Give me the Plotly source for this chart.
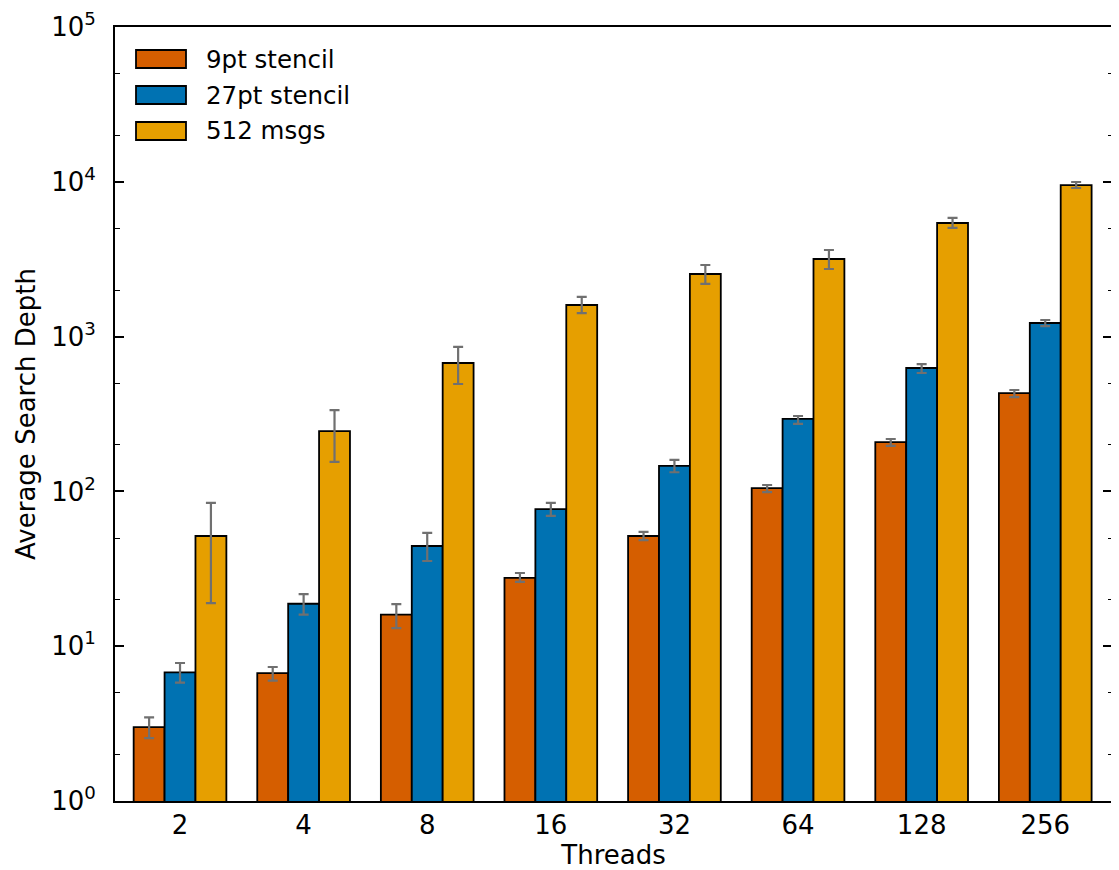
import plotly.graph_objects as go

threads = ["2", "4", "8", "16", "32", "64", "128", "256"]
series_names = ["9pt stencil", "27pt stencil", "512 msgs"]
colors = ["#D55E00", "#0072B2", "#E69F00"]

stencil9 = [3.0, 6.7, 16.0, 27.6, 51.5, 105, 208, 432]
stencil9_hi = [3.47, 7.34, 18.7, 29.7, 54.7, 110, 218, 452]
stencil9_lo = [2.55, 5.99, 13.1, 26.0, 48.5, 99, 197, 407]

stencil27 = [6.78, 18.8, 44.4, 76.9, 146, 294, 627, 1224]
stencil27_hi = [7.79, 21.7, 53.9, 84.2, 160, 307, 665, 1280]
stencil27_lo = [5.81, 16.0, 35.5, 69.4, 133, 273, 582, 1170]

msgs512 = [51.5, 245, 675, 1600, 2537, 3171, 5420, 9530]
msgs512_hi = [84.2, 335, 857, 1803, 2900, 3626, 5840, 9970]
msgs512_lo = [19.0, 155, 494, 1420, 2190, 2733, 5040, 9120]

y_tickvals = [1, 10, 100, 1000, 10000, 100000]
y_ticktext = ["10<sup>0</sup>", "10<sup>1</sup>", "10<sup>2</sup>",
              "10<sup>3</sup>", "10<sup>4</sup>", "10<sup>5</sup>"]

# page has an 8px body margin; figure is sized/offset to compensate
OFF = 8
W, H = 1119 - OFF, 870 - OFF
ML, MR, MT, MB = 115 - OFF, 7, 27 - OFF, 69
PW, PH = W - ML - MR, H - MT - MB
FONT = "DejaVu Sans"

def px_x(x):
    # x in page pixels
    return (x - OFF - ML) / PW

def px_y(y):
    return (H - MB - (y - OFF)) / PH

fig = go.Figure()
data = [(stencil9, stencil9_hi, stencil9_lo),
        (stencil27, stencil27_hi, stencil27_lo),
        (msgs512, msgs512_hi, msgs512_lo)]
for name, color, (vals, hi, lo) in zip(series_names, colors, data):
    fig.add_trace(go.Bar(
        x=threads, y=vals, name=name,
        marker=dict(color=color, line=dict(color="black", width=1.8)),
        error_y=dict(type="data", symmetric=False,
                     array=[h - v for h, v in zip(hi, vals)],
                     arrayminus=[v - l for l, v in zip(lo, vals)],
                     color="#707070", thickness=2.2, width=5),
        showlegend=False,
    ))

# invisible trace so the mirrored right-hand log axis (with minor ticks) is drawn
fig.add_trace(go.Scatter(x=threads[:1], y=stencil9[:1], yaxis="y2", mode="markers",
                         marker=dict(opacity=0), showlegend=False, hoverinfo="skip"))

# custom legend (matplotlib-style wide patches)
for i, (name, color) in enumerate(zip(series_names, colors)):
    top = 50 + 36 * i
    fig.add_shape(type="rect", xref="paper", yref="paper",
                  x0=px_x(136), x1=px_x(186), y0=px_y(top + 18), y1=px_y(top),
                  fillcolor=color, line=dict(color="black", width=1.8))
    fig.add_annotation(xref="paper", yref="paper", x=px_x(204), y=px_y(top + 9),
                       text=name, showarrow=False, xanchor="left", yanchor="middle",
                       font=dict(family=FONT, size=24.5, color="black"))

common_y = dict(
    type="log", range=[0, 5],
    tickvals=y_tickvals,
    ticks="inside", ticklen=9, tickwidth=1.5, tickcolor="black",
    minor=dict(ticks="inside", ticklen=4.5, tickwidth=1, tickcolor="black", showgrid=False),
    showgrid=False, zeroline=False, automargin=False,
)

fig.update_layout(
    width=W, height=H,
    margin=dict(l=ML, r=MR, t=MT, b=MB),
    paper_bgcolor="white", plot_bgcolor="white",
    barmode="group", bargap=0.25, bargroupgap=0,
    font=dict(family=FONT, size=26, color="black"),
    xaxis=dict(
        type="category", range=[-0.526, 7.54],
        showline=True, linecolor="black", linewidth=2, mirror=True,
        ticks="", showgrid=False, automargin=False,
        tickfont=dict(family=FONT, size=26),
        title=dict(text="Threads", font=dict(family=FONT, size=26), standoff=12),
    ),
    yaxis=dict(
        **common_y,
        ticktext=y_ticktext,
        showline=True, linecolor="black", linewidth=2, mirror=True,
        ticklabelstandoff=12,
        tickfont=dict(family=FONT, size=26),
        title=dict(text="Average Search Depth", font=dict(family=FONT, size=26), standoff=8),
    ),
    yaxis2=dict(
        **common_y,
        overlaying="y", side="right", showticklabels=False, showline=False,
    ),
)

fig.write_html("out.html")
